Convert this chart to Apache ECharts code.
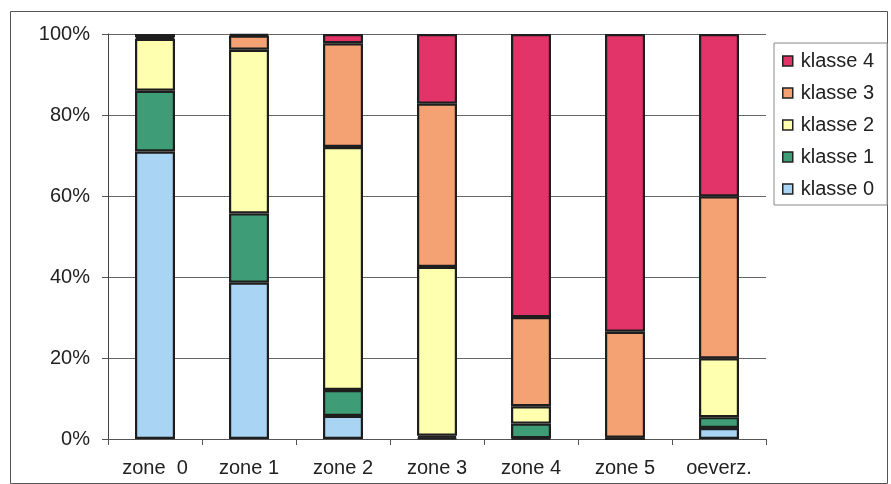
<!DOCTYPE html>
<html>
<head>
<meta charset="utf-8">
<script src="https://cdn.jsdelivr.net/npm/echarts@6/dist/echarts.min.js"></script>
<style>
html,body{margin:0;padding:0;background:#fff;}
#c{width:891px;height:484px;}
</style>
</head>
<body>
<div id="c"></div>
<script>
const categories = ['zone  0', 'zone 1', 'zone 2', 'zone 3', 'zone 4', 'zone 5', 'oeverz.'];
const klasse0 = [71, 38.6, 5.7, 0.3, 0.2, 0, 2.7];
const klasse1 = [15, 17.1, 6.4, 0.5, 3.6, 0, 2.7];
const klasse2 = [12.8, 40.4, 60, 41.7, 4.3, 0.3, 14.5];
const klasse3 = [0.4, 3.5, 25.6, 40.3, 22, 26.2, 40];
const klasse4 = [0.8, 0.4, 2.3, 17.2, 69.9, 73.5, 40.1];
const seriesNames = ['klasse 0', 'klasse 1', 'klasse 2', 'klasse 3', 'klasse 4'];
const seriesColors = ['#A9D4F3', '#3E9C76', '#FFFFB0', '#F4A274', '#E3346A'];
const yTicks = { min: 0, max: 100, interval: 20 };

const font = '"Liberation Sans", Arial, sans-serif';
const values = [klasse0, klasse1, klasse2, klasse3, klasse4];

const chart = echarts.init(document.getElementById('c'), null, { renderer: 'canvas' });
chart.setOption({
  animation: false,
  backgroundColor: '#fff',
  textStyle: { fontFamily: font },
  graphic: [{
    type: 'rect', left: 8, top: 9, silent: true,
    shape: { width: 877, height: 472 },
    style: { fill: 'none', stroke: '#555', lineWidth: 1 }
  }],
  grid: { left: 108, right: 125, top: 34, bottom: 45 },
  legend: {
    orient: 'vertical',
    left: 774, top: 43,
    data: ['klasse 4', 'klasse 3', 'klasse 2', 'klasse 1', 'klasse 0'],
    icon: 'rect',
    itemWidth: 10, itemHeight: 10,
    itemGap: 12,
    padding: [8, 13, 6, 8],
    borderColor: '#888', borderWidth: 1,
    backgroundColor: '#fff',
    textStyle: { fontFamily: font, fontSize: 20, color: '#222', lineHeight: 20, padding: [0, 0, 0, 3] },
    itemStyle: { borderColor: '#222', borderWidth: 1.5 }
  },
  xAxis: {
    type: 'category',
    data: categories,
    axisLine: { lineStyle: { color: '#555', width: 1 } },
    axisTick: { show: true, length: 6, lineStyle: { color: '#555' } },
    axisLabel: { fontFamily: font, fontSize: 20, color: '#222', margin: 19 },
    splitLine: { show: false }
  },
  yAxis: {
    type: 'value',
    min: yTicks.min, max: yTicks.max, interval: yTicks.interval,
    axisLine: { show: true, lineStyle: { color: '#444', width: 1 } },
    axisTick: { show: true, length: 6, lineStyle: { color: '#555' } },
    axisLabel: { formatter: '{value}%', fontFamily: font, fontSize: 20, color: '#222', margin: 18 },
    splitLine: { show: true, lineStyle: { color: '#666', width: 1 } }
  },
  series: seriesNames.map((name, i) => ({
    name: name,
    type: 'bar',
    stack: 'total',
    barWidth: 40,
    data: values[i],
    itemStyle: { color: seriesColors[i], borderColor: '#1e1e1e', borderWidth: 2.2 }
  }))
});
</script>
</body>
</html>
